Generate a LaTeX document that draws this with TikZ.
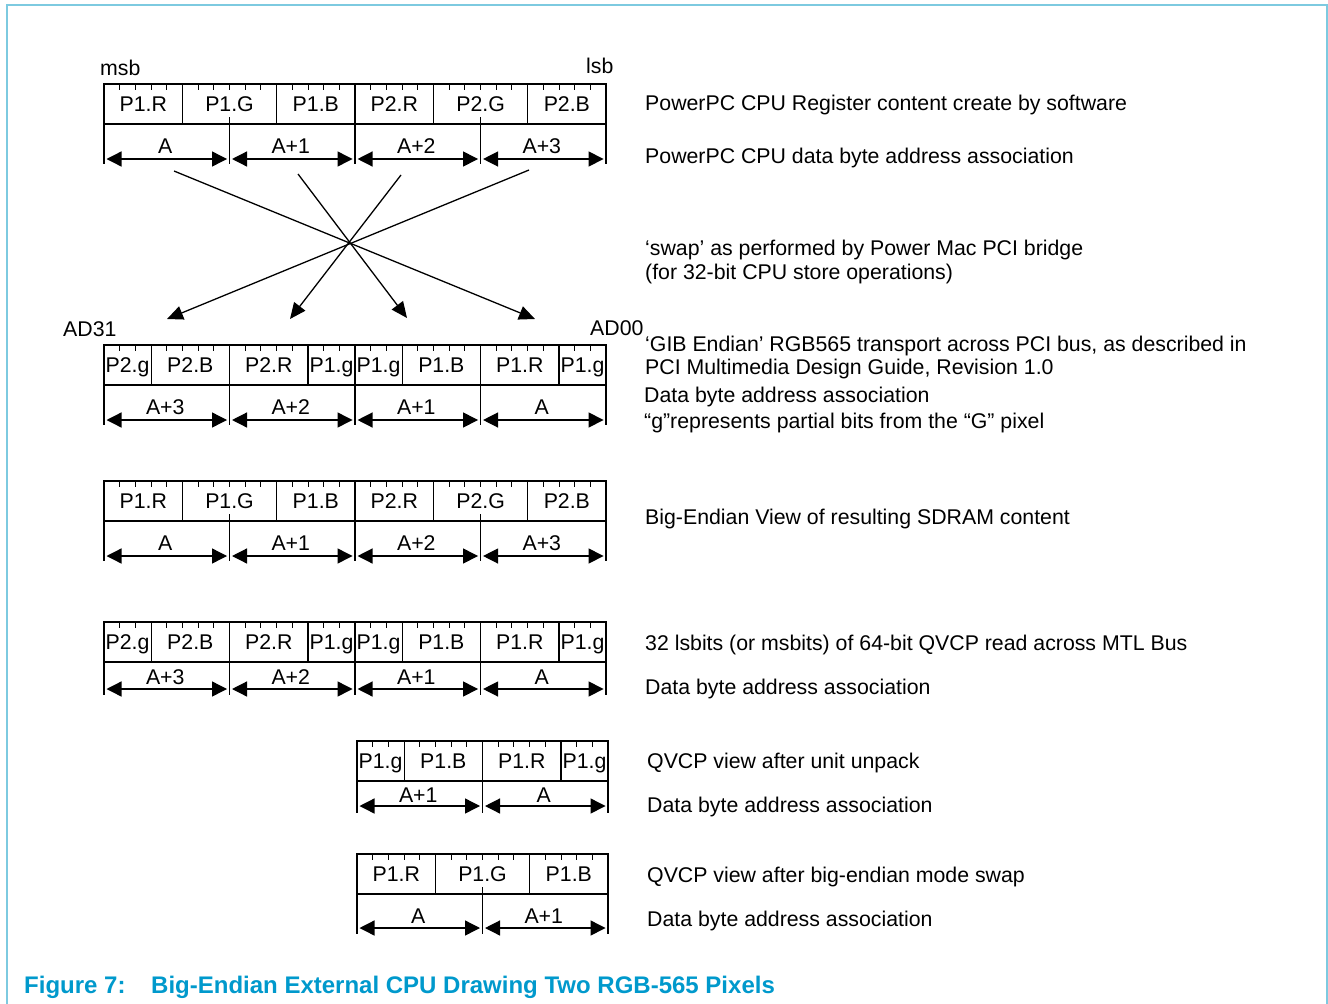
\documentclass[tikz,border=0pt]{standalone}
\usepackage{fontspec}
\setmainfont{Liberation Sans}
\usetikzlibrary{arrows.meta}
\definecolor{framecol}{RGB}{125,202,224}
\definecolor{capcol}{RGB}{0,153,204}
\def\bw{15.69}
% #1 name, #2 x0, #3 ytop, #4 nbits, #5 fields, #6 bytes, #7 label offset, #8 arrow offset, #9 ext offset
\newcommand\drawreg[9]{%
  \pgfmathtruncatemacro\nbm{#4-1}%
  \foreach \i in {1,...,\nbm} {\draw[bittick] ({#2+\i*\bw},{#3}) -- ++(0,6);}
  \foreach \s/\e/\t [count=\k] in {#5} {%
    \draw[fieldsep] ({#2+\s*\bw},{#3}) -- ({#2+\s*\bw},{#3+40});
    \node[reglab] (#1f\k) at ({#2+(\s+\e)/2*\bw},{#3+27.5}) {\t};
  }
  \ifnum#4=32 \draw[halfsep] ({#2+16*\bw},{#3}) -- ({#2+16*\bw},{#3+40});\fi
  \draw[regbox] (#2,#3) rectangle ({#2+#4*\bw},{#3+40});
  \draw[extline] ({#2},{#3+40}) -- ({#2},{#3+40+#9});
  \foreach \s/\e/\t [count=\k] in {#6} {%
    \coordinate (#1b\k l) at ({#2+\s*\bw+2.5},{#3+40+#8});
    \coordinate (#1b\k r) at ({#2+\e*\bw-2.5},{#3+40+#8});
    \draw[dimarrow] (#1b\k l) -- (#1b\k r);
    \node[dimlab] (#1d\k) at ({#2+(\s+\e)/2*\bw-1.5},{#3+40+#7}) {\t};
    \draw[extline] ({#2+\e*\bw},{#3+33}) -- ({#2+\e*\bw},{#3+40+#9});
  }
}
\begin{document}
\begin{tikzpicture}[x=1pt,y=-1pt,
  every node/.style={font=\fontsize{21.3}{25}\selectfont, inner sep=0pt},
  bittick/.style={line width=0.9},
  fieldsep/.style={line width=1.1},
  halfsep/.style={line width=2.4},
  regbox/.style={line width=2.6},
  extline/.style={line width=1.2},
  reglab/.style={anchor=base},
  dimlab/.style={anchor=base},
  dimarrow/.style={{Triangle[length=15,width=15]}-{Triangle[length=15,width=15]}, line width=1.3},
  swaparrow/.style={-{Triangle[length=16,width=14]}, line width=1.3},
  note/.style={anchor=base west},
  captext/.style={anchor=base west, text=capcol, font=\fontsize{24}{28}\selectfont\bfseries}
]
\useasboundingbox (0,0) rectangle (1328,1004);
\draw[framecol, line width=2.5] (7,1004) -- (7,5) -- (1327,5) -- (1327,1004);

% Register 1
\node[note] (msb) at (100,75) {msb};
\node[note] (lsb) at (586,73) {lsb};
\drawreg{ra}{104}{84}{32}{0/5/P1.R,5/11/P1.G,11/16/P1.B,16/21/P2.R,21/27/P2.G,27/32/P2.B}{0/8/A,8/16/A+1,16/24/A+2,24/32/A+3}{29}{35}{40}

% swap arrows
\coordinate (s1) at (174,171);
\coordinate (s2) at (298,174);
\coordinate (s3) at (401,175);
\coordinate (s4) at (529,170);
\coordinate (e1) at (535,319);
\coordinate (e2) at (407,318);
\coordinate (e3) at (290,319);
\coordinate (e4) at (167,319);
\draw[swaparrow] (s1) -- (e1);
\draw[swaparrow] (s2) -- (e2);
\draw[swaparrow] (s3) -- (e3);
\draw[swaparrow] (s4) -- (e4);

% Register 2
\node[note] (ad31) at (63,336) {AD31};
\node[note] (ad00) at (590,335) {AD00};
\drawreg{rb}{104}{345}{32}{0/3/P2.g,3/8/P2.B,8/13/P2.R,13/16/P1.g,16/19/P1.g,19/24/P1.B,24/29/P1.R,29/32/P1.g}{0/8/A+3,8/16/A+2,16/24/A+1,24/32/A}{29}{35}{40}

% Register 3
\drawreg{rc}{104}{481}{32}{0/5/P1.R,5/11/P1.G,11/16/P1.B,16/21/P2.R,21/27/P2.G,27/32/P2.B}{0/8/A,8/16/A+1,16/24/A+2,24/32/A+3}{29}{35}{40}

% Register 4
\drawreg{rd}{104}{622}{32}{0/3/P2.g,3/8/P2.B,8/13/P2.R,13/16/P1.g,16/19/P1.g,19/24/P1.B,24/29/P1.R,29/32/P1.g}{0/8/A+3,8/16/A+2,16/24/A+1,24/32/A}{22}{27}{33}

% Register 5
\drawreg{re}{357}{741}{16}{0/3/P1.g,3/8/P1.B,8/13/P1.R,13/16/P1.g}{0/8/A+1,8/16/A}{21}{25}{32}

% Register 6
\drawreg{rf}{357}{854}{16}{0/5/P1.R,5/11/P1.G,11/16/P1.B}{0/8/A,8/16/A+1}{29}{34}{40}

% notes
\node[note] (n1) at (645,110) {PowerPC CPU Register content create by software};
\node[note] (n2) at (645,163) {PowerPC CPU data byte address association};
\node[note] (n3) at (645,255) {‘swap’ as performed by Power Mac PCI bridge};
\node[note] (n4) at (645,279) {(for 32-bit CPU store operations)};
\node[note] (n5) at (645,351) {‘GIB Endian’ RGB565 transport across PCI bus, as described in};
\node[note] (n6) at (645,374) {PCI Multimedia Design Guide, Revision 1.0};
\node[note] (n7) at (644,402) {Data byte address association};
\node[note] (n8) at (644,428) {“g”represents partial bits from the “G” pixel};
\node[note] (n9) at (645,524) {Big-Endian View of resulting SDRAM content};
\node[note] (n10) at (645,650) {32 lsbits (or msbits) of 64-bit QVCP read across MTL Bus};
\node[note] (n11) at (645,694) {Data byte address association};
\node[note] (n12) at (647,768) {QVCP view after unit unpack};
\node[note] (n13) at (647,812) {Data byte address association};
\node[note] (n14) at (647,882) {QVCP view after big-endian mode swap};
\node[note] (n15) at (647,926) {Data byte address association};

% caption
\node[captext] (figno) at (24,993) {Figure 7:};
\node[captext] (captxt) at (151,993) {Big-Endian External CPU Drawing Two RGB-565 Pixels};
\end{tikzpicture}
\end{document}
